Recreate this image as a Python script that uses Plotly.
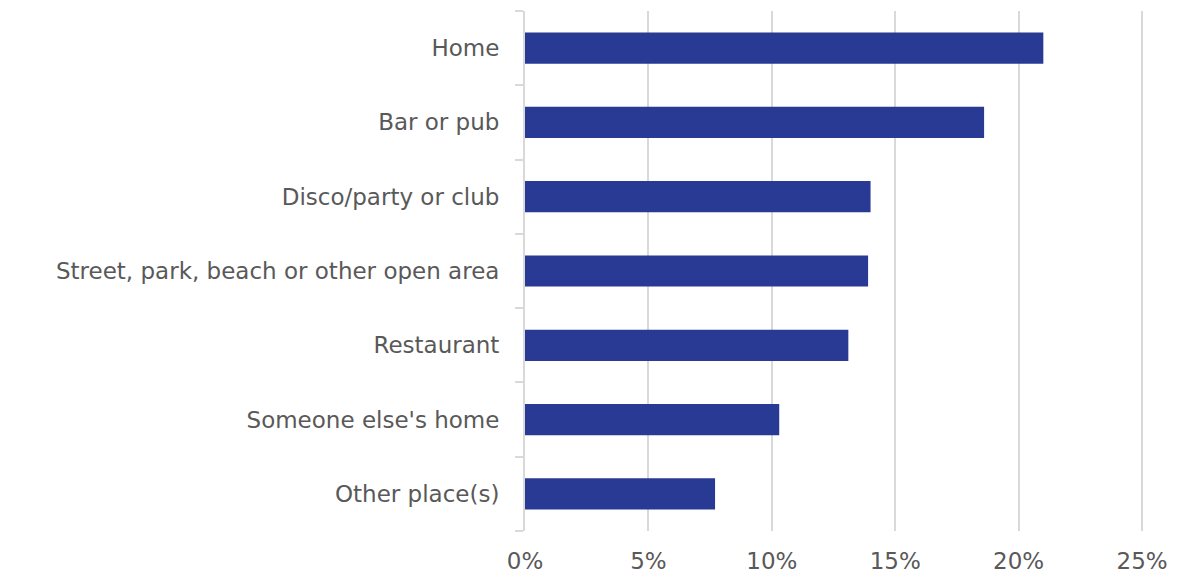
import plotly.graph_objects as go

# Places where drinking took place (share of respondents, %)
places = [
    "Home",
    "Bar or pub",
    "Disco/party or club",
    "Street, park, beach or other open area",
    "Restaurant",
    "Someone else's home",
    "Other place(s)",
]
shares = [21.0, 18.6, 14.0, 13.9, 13.1, 10.3, 7.7]

x_ticks = [0, 5, 10, 15, 20, 25]
x_tick_labels = ["0%", "5%", "10%", "15%", "20%", "25%"]

BAR_COLOR = "#283a94"
GRID_COLOR = "#d9d9d9"
TEXT_COLOR = "#595959"
FONT = "DejaVu Sans"

fig = go.Figure(
    go.Bar(
        x=shares,
        y=places,
        orientation="h",
        marker=dict(color=BAR_COLOR, line=dict(width=0)),
        width=0.42,
        hoverinfo="x+y",
    )
)

fig.update_layout(
    width=1178,
    height=575,
    margin=dict(l=525, r=31, t=11, b=44),
    paper_bgcolor="white",
    plot_bgcolor="white",
    showlegend=False,
    font=dict(family=FONT, size=23, color=TEXT_COLOR),
)

fig.update_xaxes(
    range=[0, 25.2],
    tickvals=x_ticks,
    ticktext=x_tick_labels,
    showgrid=True,
    gridcolor=GRID_COLOR,
    gridwidth=2,
    zeroline=False,
    showline=False,
    ticks="",
    ticklabelstandoff=14,
    tickfont=dict(family=FONT, size=23, color=TEXT_COLOR),
    automargin=False,
    fixedrange=True,
)

fig.update_yaxes(
    categoryorder="array",
    categoryarray=places[::-1],
    autorange=False,
    range=[-0.5, len(places) - 0.5],
    showline=True,
    linecolor=GRID_COLOR,
    linewidth=2,
    ticks="outside",
    tickson="boundaries",
    ticklen=8,
    tickcolor=GRID_COLOR,
    tickwidth=2,
    showgrid=False,
    ticklabelstandoff=19,
    tickfont=dict(family=FONT, size=23, color=TEXT_COLOR),
    automargin=False,
    fixedrange=True,
)

fig.write_html("out.html")
